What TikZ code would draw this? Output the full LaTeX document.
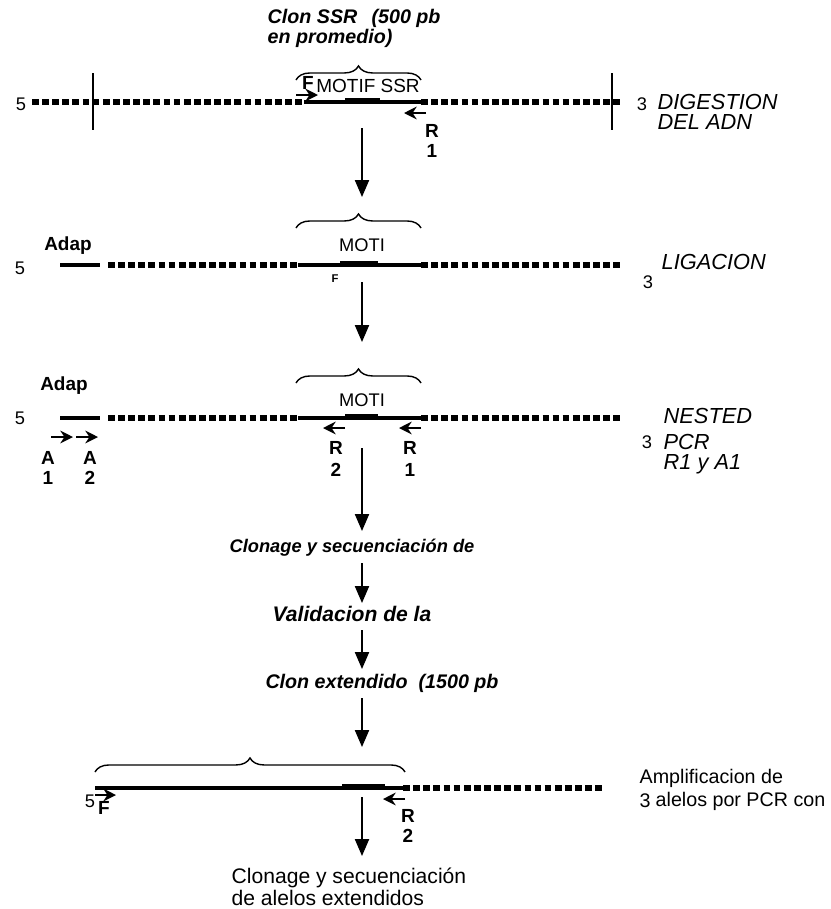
\documentclass[tikz,border=0pt]{standalone}
\usepackage{fontspec}
\setmainfont{Liberation Sans}
\usetikzlibrary{arrows.meta,decorations.pathreplacing}

\begin{document}
\begin{tikzpicture}[x=0.025cm, y=-0.025cm, font=\fontsize{13}{14}\selectfont]
    % estilos del esquema
    \tikzset{
        adn/.style={line width=4.6pt, dash pattern=on 4.8pt off 2.4pt},
        motivo/.style={line width=3pt},
        adaptador/.style={line width=2.8pt},
        corte/.style={line width=1.6pt},
        cebador/.style={line width=2pt, -{Stealth[length=9pt, width=9pt]}},
        paso/.style={line width=1.2pt, -{Triangle[length=12pt, width=10pt]}},
        llave/.style={decorate, decoration={brace, amplitude=10pt}, line width=1pt},
        titulo/.style={font=\fontsize{14}{16}\selectfont\bfseries\itshape, anchor=west, inner sep=1pt},
        etapa/.style={font=\fontsize{15.5}{17}\selectfont\itshape, anchor=west, inner sep=1pt},
        marca/.style={font=\fontsize{13.5}{14}\selectfont\bfseries, inner sep=1pt},
        texto/.style={inner sep=1pt}
    }
    \useasboundingbox (0,0) rectangle (830,909);

    % Digestion del ADN
    \node[titulo] (clonssr) at (266,18) {Clon SSR\ \ \,(500 pb};
    \node[titulo] (promedio) at (266,38) {en promedio)};
    \node[texto] (cinco1) at (21,104) {5};
    \coordinate (a1) at (32,102);
    \coordinate (b1) at (304,102);
    \coordinate (c1) at (421,102);
    \coordinate (e1) at (622,102);
    \draw[adn] (a1) -- (b1);
    \draw[motivo] (b1) -- (c1);
    \draw[line width=4pt] (345,101) -- (380,101);
    \draw[adn] (c1) -- (e1);
    \draw[corte] (93,73) -- (93,130);
    \draw[corte] (612,73) -- (612,130);
    \node[texto] (tres1) at (642,104) {3};
    \node[etapa] (digestion) at (656,102) {DIGESTION};
    \node[etapa] (deladn) at (656,122) {DEL ADN};
    \node[texto, font=\fontsize{13.5}{14}\selectfont] (motif1) at (368,86) {MOTIF SSR};
    \draw[llave] (296,80) -- (421,80);
    \coordinate (f1a) at (296,95);
    \coordinate (f1b) at (318,95);
    \draw[cebador] (f1a) -- (f1b);
    \node[marca] (f1) at (308,83) {F};
    \coordinate (r1a) at (426,113);
    \coordinate (r1b) at (404,113);
    \draw[cebador] (r1a) -- (r1b);
    \node[marca] (r1) at (432,131) {R};
    \node[marca] (r1n) at (432,151) {1};

    \coordinate (p1a) at (362,128);
    \coordinate (p1b) at (362,197);
    \draw[paso] (p1a) -- (p1b);

    % Ligacion
    \node[texto] (cinco2) at (20,268) {5};
    \node[marca] (adap2) at (68,246) {Adap};
    \coordinate (a2) at (60,265);
    \coordinate (b2) at (100,265);
    \coordinate (c2) at (108,265);
    \coordinate (d2) at (298,265);
    \coordinate (e2) at (421,265);
    \coordinate (g2) at (622,265);
    \draw[adaptador] (a2) -- (b2);
    \draw[adn] (c2) -- (d2);
    \draw[motivo] (d2) -- (e2);
    \draw[line width=4pt] (340,264) -- (378,264);
    \draw[adn] (e2) -- (g2);
    \node[texto] (tres2) at (648,282) {3};
    \node[etapa] (ligacion) at (660,262) {LIGACION};
    \node[texto] (moti2) at (362,245) {MOTI};
    \node[marca, font=\fontsize{8}{9}\selectfont\bfseries] (f2) at (335,279) {F};
    \draw[llave] (296,228) -- (421,228);

    \coordinate (p2a) at (362,282);
    \coordinate (p2b) at (362,342);
    \draw[paso] (p2a) -- (p2b);

    % Nested PCR
    \node[marca] (adap3) at (64,386) {Adap};
    \node[texto] (cinco3) at (20,418) {5};
    \coordinate (a3) at (60,418);
    \coordinate (b3) at (100,418);
    \coordinate (c3) at (108,418);
    \coordinate (d3) at (298,418);
    \coordinate (e3) at (421,418);
    \coordinate (g3) at (622,418);
    \draw[line width=2.2pt] (a3) -- (b3);
    \draw[adn] (c3) -- (d3);
    \draw[motivo] (d3) -- (e3);
    \draw[line width=4pt] (345,417) -- (378,417);
    \draw[adn] (e3) -- (g3);
    \node[etapa] (nested) at (662,416) {NESTED};
    \node[texto] (tres3) at (647,442) {3};
    \node[etapa] (pcr) at (662,442) {PCR};
    \node[etapa] (r1ya1) at (662,464) {R1 y A1};
    \node[texto] (moti3) at (362,400) {MOTI};
    \draw[llave] (296,383) -- (421,383);
    % cebadores
    \coordinate (a1a) at (51,437);
    \coordinate (a1b) at (73,437);
    \coordinate (a2a) at (76,437);
    \coordinate (a2b) at (98,437);
    \draw[cebador] (a1a) -- (a1b);
    \draw[cebador] (a2a) -- (a2b);
    \node[marca] (ca1) at (48,458) {A};
    \node[marca] (ca1n) at (48,478) {1};
    \node[marca] (ca2) at (90,458) {A};
    \node[marca] (ca2n) at (90,478) {2};
    \coordinate (r2a) at (345,428);
    \coordinate (r2b) at (323,428);
    \coordinate (r3a) at (421,428);
    \coordinate (r3b) at (399,428);
    \draw[cebador] (r2a) -- (r2b);
    \draw[cebador] (r3a) -- (r3b);
    \node[marca] (cr2) at (336,448) {R};
    \node[marca] (cr2n) at (336,470) {2};
    \node[marca] (cr1) at (410,448) {R};
    \node[marca] (cr1n) at (410,470) {1};

    \coordinate (p3a) at (362,448);
    \coordinate (p3b) at (362,531);
    \draw[paso] (p3a) -- (p3b);

    % pasos intermedios
    \node[titulo, anchor=center, font=\fontsize{13}{15}\selectfont\bfseries\itshape] (clonage) at (352,548) {Clonage y secuenciación de};
    \coordinate (p4a) at (362,563);
    \coordinate (p4b) at (362,603);
    \draw[paso] (p4a) -- (p4b);
    \node[titulo, anchor=center, font=\fontsize{15}{17}\selectfont\bfseries\itshape] (validacion) at (352,614) {Validacion de la};
    \coordinate (p5a) at (362,630);
    \coordinate (p5b) at (362,669);
    \draw[paso] (p5a) -- (p5b);
    \node[titulo, anchor=center] (extendido) at (382,683) {Clon extendido\ \ (1500 pb};
    \coordinate (p6a) at (362,698);
    \coordinate (p6b) at (362,747);
    \draw[paso] (p6a) -- (p6b);

    % Amplificacion
    \draw[llave] (95,772) -- (405,772);
    \coordinate (a4) at (95,788);
    \coordinate (b4) at (403,788);
    \coordinate (c4) at (605,788);
    \draw[motivo] (a4) -- (b4);
    \draw[line width=4pt] (342,787) -- (385,787);
    \draw[adn] (b4) -- (c4);
    \node[texto] (cinco4) at (90,801) {5};
    \coordinate (f4a) at (95,795);
    \coordinate (f4b) at (116,795);
    \draw[cebador] (f4a) -- (f4b);
    \node[marca] (f4) at (104,808) {F};
    \coordinate (r4a) at (405,799);
    \coordinate (r4b) at (383,799);
    \draw[cebador] (r4a) -- (r4b);
    \node[marca] (cr4) at (408,816) {R};
    \node[marca] (cr4n) at (408,836) {2};
    \node[texto, anchor=west, font=\fontsize{14}{15}\selectfont] (amplif) at (638,778) {Amplificacion de};
    \node[texto, font=\fontsize{14}{15}\selectfont] (tres4) at (645,801) {3};
    \node[texto, anchor=west, font=\fontsize{14}{15}\selectfont] (alelos) at (654,801) {alelos por PCR con};

    \coordinate (p7a) at (362,797);
    \coordinate (p7b) at (362,856);
    \draw[paso] (p7a) -- (p7b);
    \node[texto, anchor=west, font=\fontsize{15}{16}\selectfont] (clonage2) at (230,878) {Clonage y secuenciación};
    \node[texto, anchor=west, font=\fontsize{15}{16}\selectfont] (alelos2) at (230,898) {de alelos extendidos};
\end{tikzpicture}
\end{document}
